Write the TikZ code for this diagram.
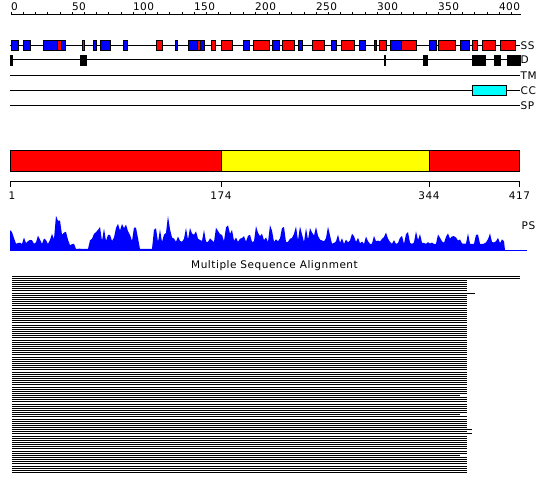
\documentclass[tikz,border=0pt]{standalone}
\usepackage{fontspec}
\setmainfont[LetterSpace=5]{DejaVu Sans}
\definecolor{ssred}{RGB}{255,0,0}
\definecolor{ssblue}{RGB}{0,0,255}
\definecolor{domyellow}{RGB}{255,255,0}
\definecolor{cccyan}{RGB}{0,255,255}
\begin{document}
\begin{tikzpicture}[x=1pt,y=-1pt,
  lab/.style={font=\fontsize{10.5}{12}\selectfont, inner sep=0pt, text=black},
  trackline/.style={draw=black, line width=1pt},
  segbox/.style={draw=black, line width=0.9pt},
  msaline/.style={draw=black, line width=1pt},
  declare function={
    psb(\x)=(\x<13)*18+(\x>12)*(\x<50)*6+(\x>49)*(\x<70)*10+(\x>69)*(\x<75)*4+(\x>74)*(\x<90)*1+(\x>89)*(\x<140)*9+(\x>139)*(\x<153)*1+(\x>152)*(\x<330)*8+(\x>329)*6;
    pss(\x)=(\x<13)*6+(\x>12)*(\x<50)*9+(\x>49)*(\x<70)*20+(\x>69)*(\x<75)*3+(\x>74)*(\x<90)*0.5+(\x>89)*(\x<140)*20+(\x>139)*(\x<153)*0.3+(\x>152)*(\x<172)*22+(\x>171)*(\x<330)*17+(\x>329)*13;
    psp(\x)=(\x>54)*(\x<59)*12+(\x>154)*(\x<158)*10+(\x>158)*(\x<162)*10+(\x>167)*(\x<172)*10;
  }
]
\useasboundingbox (0,0) rectangle (550,495);
\pgfmathsetseed{4242}

% ---------- ruler ----------
\draw[line width=1pt] (11.3,15) -- (521,15);
\foreach \u in {0,10,...,410}{
  \pgfmathsetmacro{\xx}{11.3+1.22*\u}
  \draw[line width=1pt] (\xx,12) -- (\xx,15);
}
\foreach \u in {0,50,...,400}{
  \pgfmathsetmacro{\xx}{11.3+1.22*\u}
  \node[lab, anchor=base west] (r\u) at (\xx-0.5,10.5) {\u};
}

% ---------- tracks ----------
\draw[trackline] (10,45.3) -- (520,45.3);
\draw[trackline] (10,60) -- (520,60);
\draw[trackline] (10,75.3) -- (520,75.3);
\draw[trackline] (10,90.3) -- (520,90.3);
\draw[trackline] (10,105.3) -- (520,105.3);

% SS elements
\foreach \a/\b/\c in {11.3/18.7/ssblue, 23.3/30.7/ssblue, 43.3/57.3/ssblue, 57.3/61.7/ssred, 61.7/65.7/ssblue,
  82/84.3/ssred, 93/96/ssblue, 100.3/110.7/ssblue, 123.3/127.7/ssblue, 156.3/162/ssred, 175.3/177.7/ssblue,
  188.7/197.7/ssblue, 197.7/200/ssred, 200/204.3/ssblue, 211.3/215.7/ssred, 221.3/232.3/ssred,
  243.7/249.7/ssblue, 253.3/269.7/ssred, 272.3/279.3/ssblue, 282.3/294/ssred, 298.7/302.3/ssblue,
  312.3/324.3/ssred, 331.7/336.3/ssblue, 341.3/354/ssred, 359.3/365.7/ssblue, 374/376/ssblue,
  379.3/386.3/ssred, 390.3/401/ssblue, 401/416.7/ssred, 429.3/436.3/ssblue, 438.3/455.7/ssred,
  460.7/469.7/ssblue, 472.3/477.7/ssred, 482.3/495.7/ssred, 500.3/515.7/ssred}{
  \filldraw[segbox, fill=\c] (\a,40) rectangle (\b,50.5);
}
% D elements
\foreach \a/\b in {10/12.7, 80.3/86, 384.3/385.7, 423/427.3, 472.3/485.3, 494/500.7, 507.3/520.7}{
  \filldraw[segbox, fill=black] (\a,55) rectangle (\b,65.5);
}
% CC element
\filldraw[segbox, fill=cccyan] (472.3,85) rectangle (506.3,95.5);

\node[lab, anchor=west] (lSS) at (520.5,45.3) {SS};
\node[lab, anchor=west] (lD) at (520.5,60) {D};
\node[lab, anchor=west] (lTM) at (520.5,75.3) {TM};
\node[lab, anchor=west] (lCC) at (520.5,90.3) {CC};
\node[lab, anchor=west] (lSP) at (520.5,105.3) {SP};

% ---------- domain bar ----------
\filldraw[segbox, fill=ssred] (10,150.5) rectangle (221,171.5);
\filldraw[segbox, fill=domyellow] (221,150.5) rectangle (429,171.5);
\filldraw[segbox, fill=ssred] (429,150.5) rectangle (519.5,171.5);
\draw[line width=1pt] (10,182) -- (519.5,182);
\foreach \xx in {10,221,429,519.5}{
  \draw[line width=1pt] (\xx,182) -- (\xx,187);
}
\node[lab] (d1) at (12,196) {1};
\node[lab] (d174) at (221,196) {174};
\node[lab] (d344) at (429,196) {344};
\node[lab] (d417) at (519.5,196) {417};

% ---------- PS profile ----------
\fill[ssblue] (10,250) \foreach \x in {10,12,...,504}{ -- (\x,{250-psb(\x)-psp(\x)-pss(\x)*pow(rnd,2)}) } -- (505,250) -- cycle;
\draw[ssblue, line width=1pt] (10,250) -- (527,250);
\node[lab, anchor=west] (lPS) at (521.5,226) {PS};

% ---------- MSA ----------
\node[lab] (msat) at (274.5,265.5) {Multiple Sequence Alignment};
\foreach \i in {0,...,92}{
  \pgfmathsetmacro{\yy}{276+2.135*\i}
  \pgfmathsetmacro{\xe}{(\i<2)*520+(\i==8)*475+(\i==56)*460+(\i==65)*460+(\i==72)*472+(\i==74)*472+(\i==84)*460
     +(1-(\i<2)-(\i==8)-(\i==56)-(\i==65)-(\i==72)-(\i==74)-(\i==84))*466.7}
  \draw[msaline] (12,\yy) -- (\xe,\yy);
}
\end{tikzpicture}
\end{document}
